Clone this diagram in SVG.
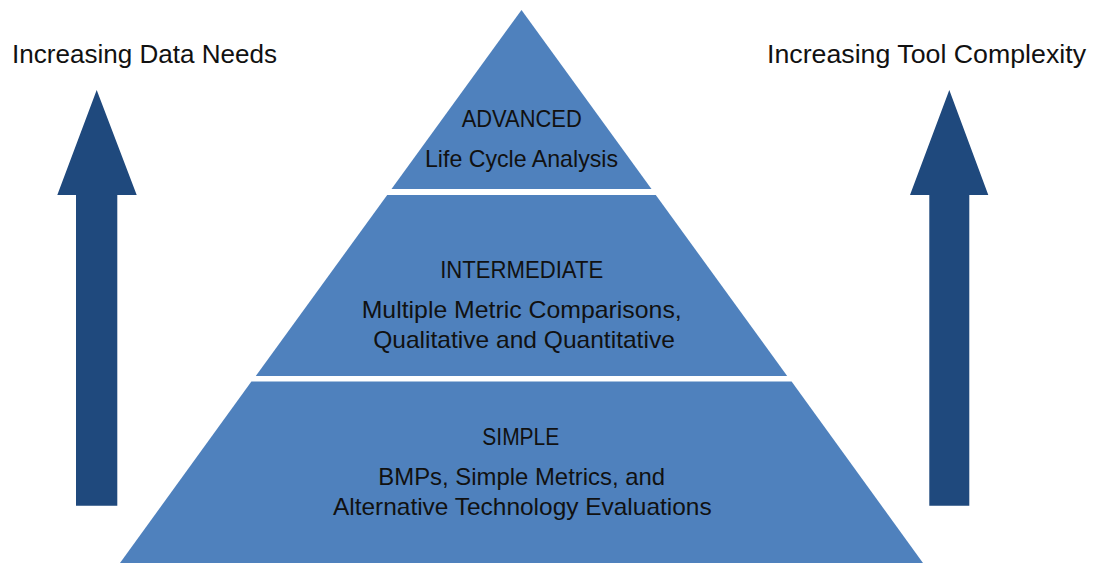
<svg xmlns="http://www.w3.org/2000/svg" width="1093" height="563" viewBox="0 0 1093 563">
<style>
.tier{fill:#4F81BD}
.arrow{fill:#1F497D}
text{font-family:"Liberation Sans",Arial,sans-serif;fill:#111;text-anchor:middle}
.lbl{font-size:24px}
.side{font-size:25px}
</style>
<rect width="1093" height="563" fill="#fff"/>
<g id="arrow-left"><polygon class="arrow" points="96.7,90 136.7,195 117.3,195 117.3,505.7 76,505.7 76,195 57.3,195"/></g>
<g id="arrow-right"><polygon class="arrow" points="949.3,90 988.3,195 969.3,195 969.3,505.7 929.3,505.7 929.3,195 910,195"/></g>
<g id="label-left"><text class="side" x="144.5" y="63" textLength="265" lengthAdjust="spacingAndGlyphs">Increasing Data Needs</text></g>
<g id="label-right"><text class="side" x="926.5" y="63" textLength="319" lengthAdjust="spacingAndGlyphs">Increasing Tool Complexity</text></g>
<g id="advanced">
<polygon class="tier" points="521.5,10 651.5,189 391.5,189"/>
<text class="lbl" x="521.7" y="127" textLength="120" lengthAdjust="spacingAndGlyphs">ADVANCED</text>
<text class="lbl" x="521.5" y="167" textLength="193" lengthAdjust="spacingAndGlyphs">Life Cycle Analysis</text>
</g>
<g id="intermediate">
<polygon class="tier" points="387.2,195 655.8,195 787.2,376 255.8,376"/>
<text class="lbl" x="521.7" y="278" textLength="163" lengthAdjust="spacingAndGlyphs">INTERMEDIATE</text>
<text class="lbl" x="521.7" y="318" textLength="320" lengthAdjust="spacingAndGlyphs">Multiple Metric Comparisons,</text>
<text class="lbl" x="524" y="348" textLength="301.7" lengthAdjust="spacingAndGlyphs">Qualitative and Quantitative</text>
</g>
<g id="simple">
<polygon class="tier" points="251.4,381.5 791.6,381.5 923,563 120,563"/>
<text class="lbl" x="520.8" y="445" textLength="77" lengthAdjust="spacingAndGlyphs">SIMPLE</text>
<text class="lbl" x="521.7" y="485" textLength="286.7" lengthAdjust="spacingAndGlyphs">BMPs, Simple Metrics, and</text>
<text class="lbl" x="522.3" y="515" textLength="378.7" lengthAdjust="spacingAndGlyphs">Alternative Technology Evaluations</text>
</g>
<g id="connectors"/>
</svg>
